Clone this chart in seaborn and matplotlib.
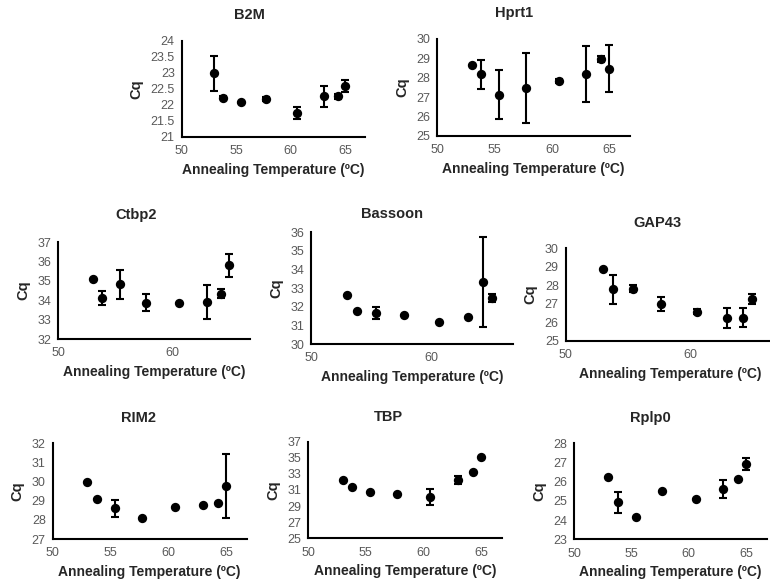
import numpy as np
import pandas as pd
import seaborn as sns
import matplotlib.pyplot as plt

# annealing temperatures of the gradient (same for every gene)
temps = [53.0, 53.8, 55.4, 57.7, 60.6, 63.0, 64.3, 65.0]

# mean Cq and error per gene
b2m_cq = [22.98, 22.22, 22.07, 22.19, 21.73, 22.26, 22.26, 22.59]
b2m_err = [0.55, 0.05, 0.03, 0.06, 0.19, 0.32, 0.07, 0.18]

hprt1_cq = [28.66, 28.19, 27.12, 27.48, 27.83, 28.19, 28.97, 28.47]
hprt1_err = [0.0, 0.75, 1.27, 1.8, 0.12, 1.43, 0.14, 1.2]

ctbp2_cq = [35.09, 34.12, 34.83, 33.88, 33.84, 33.93, 34.34, 35.81]
ctbp2_err = [0.0, 0.36, 0.74, 0.45, 0.0, 0.88, 0.24, 0.6]

bassoon_cq = [32.61, 31.75, 31.67, 31.56, 31.16, 31.43, 33.35, 32.47]
bassoon_err = [0.0, 0.0, 0.33, 0.0, 0.0, 0.0, 2.42, 0.23]

gap43_cq = [28.86, 27.78, 27.82, 26.99, 26.57, 26.23, 26.25, 27.26]
gap43_err = [0.0, 0.78, 0.2, 0.36, 0.15, 0.52, 0.5, 0.27]

rim2_cq = [30.0, 29.09, 28.6, 28.1, 28.69, 28.78, 28.86, 29.79]
rim2_err = [0.0, 0.0, 0.45, 0.0, 0.0, 0.0, 0.0, 1.67]

tbp_cq = [32.28, 31.41, 30.75, 30.55, 30.09, 32.28, 33.23, 35.14]
tbp_err = [0.0, 0.0, 0.0, 0.0, 1.0, 0.5, 0.0, 0.0]

rplp0_cq = [26.25, 24.93, 24.16, 25.52, 25.1, 25.64, 26.14, 26.91]
rplp0_err = [0.0, 0.55, 0.0, 0.0, 0.0, 0.47, 0.0, 0.3]

genes = ["B2M", "Hprt1", "Ctbp2", "Bassoon", "GAP43", "RIM2", "TBP", "Rplp0"]
cq_all = [b2m_cq, hprt1_cq, ctbp2_cq, bassoon_cq, gap43_cq, rim2_cq, tbp_cq, rplp0_cq]
err_all = [b2m_err, hprt1_err, ctbp2_err, bassoon_err, gap43_err, rim2_err, tbp_err, rplp0_err]

# y ticks per gene (lo, hi, step)
y_ticks = [(21, 24, 0.5), (25, 30, 1), (32, 37, 1), (30, 36, 1),
           (25, 30, 1), (27, 32, 1), (25, 37, 2), (23, 28, 1)]
x_steps = [5, 5, 10, 10, 10, 5, 5, 5]

# panel boxes in pixels: left, top, bottom, width ; title centre x, y
boxes = [(181.7, 40.7, 136.7, 183.3, 249, 15),
         (437.3, 39.0, 135.7, 192.7, 514, 13),
         (58.3, 242.3, 339.0, 191.7, 136, 215),
         (311.0, 232.3, 344.0, 202.3, 392, 214),
         (565.7, 248.3, 340.7, 208.8, 657, 223),
         (52.7, 443.3, 539.0, 194.0, 139, 418),
         (308.3, 441.7, 538.3, 193.4, 388, 417),
         (574.0, 443.3, 539.3, 192.7, 650, 418)]

sns.set_theme(style="white")
plt.rcParams['font.family'] = ['Liberation Sans', 'DejaVu Sans']

W, H = 770, 586
fig = plt.figure(figsize=(W / 100, H / 100), dpi=100)

for gene, cq, err, yt, xs, box in zip(genes, cq_all, err_all, y_ticks, x_steps, boxes):
    L, T, B, w, tx, ty = box
    ax = fig.add_axes([L / W, (H - B) / H, w / W, (B - T) / H])
    df = pd.DataFrame({"temp": temps, "cq": cq, "err": err})
    ax.errorbar(df["temp"], df["cq"], yerr=df["err"], fmt="none",
                ecolor="black", elinewidth=1.5, capsize=3, capthick=1.5, zorder=2)
    sns.scatterplot(data=df, x="temp", y="cq", ax=ax, color="black",
                    s=45, edgecolor="black", linewidth=0, zorder=3)
    lo, hi, st = yt
    ax.set_ylim(lo, hi)
    ax.set_yticks(np.arange(lo, hi + st / 2, st))
    ax.set_yticklabels([f"{v:g}" for v in np.arange(lo, hi + st / 2, st)])
    ax.set_xlim(50, 66.8)
    ax.set_xticks(np.arange(50, 66, xs))
    ax.tick_params(length=0, labelsize=9, labelcolor="#595959", pad=5)
    ax.tick_params(axis="x", pad=6)
    ax.set_xlabel("Annealing Temperature (ºC)", fontsize=10, fontweight="bold", labelpad=4)
    ax.set_ylabel("Cq", fontsize=10.5, fontweight="bold", labelpad=5)
    for side in ["top", "right"]:
        ax.spines[side].set_visible(False)
    for side in ["left", "bottom"]:
        ax.spines[side].set_color("black")
        ax.spines[side].set_linewidth(1.5)
    ax.grid(False)
    fig.text(tx / W, 1 - ty / H, gene, ha="center", va="center",
             fontsize=10.5, fontweight="bold")

fig.savefig("out.png", dpi=100)
